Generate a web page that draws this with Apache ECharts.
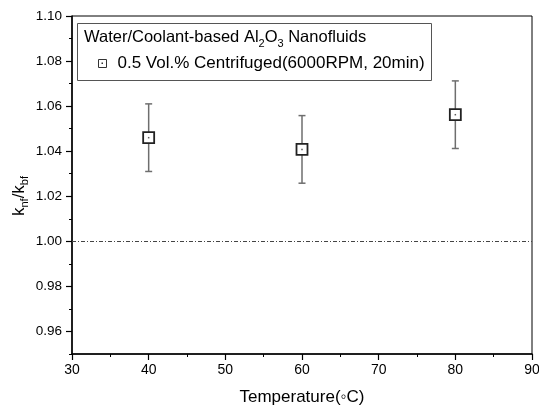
<!DOCTYPE html>
<html><head><meta charset="utf-8">
<script src="https://cdn.jsdelivr.net/npm/echarts@6/dist/echarts.min.js"></script>
<style>html,body{margin:0;padding:0;background:#fff}#c{width:539px;height:406px}</style>
</head><body><div id="c"></div>
<script>
const temperatures = [40, 60, 80];
const ratioValues = [1.046, 1.0408, 1.0562];
const ratioErrors = [0.015, 0.015, 0.015];
const xTicks = [30, 40, 50, 60, 70, 80, 90];
const yMajorTicks = [0.96, 0.98, 1.00, 1.02, 1.04, 1.06, 1.08, 1.10];
const yMinorTicks = [0.95, 0.97, 0.99, 1.01, 1.03, 1.05, 1.07, 1.09];
const referenceLevel = 1.00;
const seriesName = '0.5 Vol.% Centrifuged(6000RPM, 20min)';

const FONT = 'Liberation Sans, Arial, sans-serif';
const chart = echarts.init(document.getElementById('c'), null, {renderer: 'canvas'});
const pts = temperatures.map((t, i) => [t, ratioValues[i]]);
const bars = temperatures.map((t, i) => [t, ratioValues[i] - ratioErrors[i], ratioValues[i] + ratioErrors[i]]);

function subRich(big, small, drop) {
  return {
    n: {fontSize: big, fontFamily: FONT, fontWeight: 'normal', color: '#000', lineHeight: big + 2, verticalAlign: 'top'},
    s: {fontSize: small, fontFamily: FONT, fontWeight: 'normal', color: '#000', lineHeight: small, padding: [drop, 0, 0, 0], verticalAlign: 'top'}
  };
}

chart.setOption({
  animation: false,
  backgroundColor: '#fff',
  grid: {left: 72, right: 7, top: 16, bottom: 52, outerBoundsMode: 'none', containLabel: false,
    show: true, borderColor: '#000', borderWidth: 1},
  title: {
    text: '{n|Water/Coolant-based Al}{s|2}{n|O}{s|3}{n| Nanofluids}',
    left: 84, top: 29, padding: 0,
    textStyle: {fontWeight: 'normal', rich: subRich(16.5, 11, 9)}
  },
  legend: {
    data: [seriesName], left: 98, top: 55, padding: 0,
    itemWidth: 8, itemHeight: 8, itemGap: 10,
    itemStyle: {borderWidth: 1, borderColor: '#333'},
    textStyle: {fontSize: 17, fontFamily: FONT, color: '#000', padding: [0, 0, 0, 6]}
  },
  xAxis: {
    type: 'value', min: 30, max: 90, interval: 10,
    name: 'Temperature(\u25E6C)', nameLocation: 'middle', nameGap: 35,
    nameTextStyle: {fontSize: 17, fontFamily: FONT, color: '#000'},
    axisLine: {show: true, lineStyle: {color: '#000', width: 1.5}},
    axisTick: {show: true, inside: false, length: 6, lineStyle: {color: '#000', width: 1.2}},
    minorTick: {show: true, splitNumber: 2, length: 3, lineStyle: {color: '#000', width: 1}},
    axisLabel: {fontSize: 14, fontFamily: FONT, color: '#000', margin: 9, customValues: xTicks},
    splitLine: {show: false}
  },
  yAxis: [{
    type: 'value', min: 0.95, max: 1.10,
    axisLine: {show: true, lineStyle: {color: '#000', width: 1.5}},
    axisTick: {show: true, inside: false, length: 6, customValues: yMajorTicks, lineStyle: {color: '#000', width: 1.2}},
    axisLabel: {fontSize: 13.5, fontFamily: FONT, color: '#000', margin: 10, customValues: yMajorTicks,
      formatter: v => v.toFixed(2)},
    splitLine: {show: false}
  }, {
    type: 'value', min: 0.95, max: 1.10, position: 'left',
    axisLine: {show: false},
    axisTick: {show: true, inside: false, length: 3, customValues: yMinorTicks, lineStyle: {color: '#000', width: 1}},
    axisLabel: {show: false},
    splitLine: {show: false}
  }],
  graphic: [{
    type: 'rect', shape: {x: 77.5, y: 23.5, width: 354, height: 57},
    style: {fill: 'none', stroke: '#555', lineWidth: 1}, z: 5
  }, {
    type: 'rect', shape: {x: 101.5, y: 62.5, width: 1.5, height: 1.5},
    style: {fill: '#333'}, z: 6
  }, {
    type: 'text', x: 20, y: 196, rotation: Math.PI / 2, z: 5,
    style: {text: '{n|k}{s|nf}{n|/k}{s|bf}', rich: subRich(17, 11, 9), align: 'center', verticalAlign: 'middle'}
  }],
  series: [{
    type: 'custom', name: 'err', data: bars, z: 2, silent: true,
    renderItem: (params, api) => {
      const lo = api.coord([api.value(0), api.value(1)]);
      const hi = api.coord([api.value(0), api.value(2)]);
      const w = 3.5;
      const st = {stroke: '#6e6e6e', lineWidth: 1.5};
      return {type: 'group', children: [
        {type: 'line', shape: {x1: lo[0], y1: lo[1], x2: hi[0], y2: hi[1]}, style: st},
        {type: 'line', shape: {x1: lo[0]-w, y1: lo[1], x2: lo[0]+w, y2: lo[1]}, style: st},
        {type: 'line', shape: {x1: hi[0]-w, y1: hi[1], x2: hi[0]+w, y2: hi[1]}, style: st}
      ]};
    }
  }, {
    type: 'scatter', name: seriesName, data: pts, z: 3,
    symbol: 'rect', symbolSize: 11,
    itemStyle: {color: '#fff', borderColor: '#222', borderWidth: 1.8, opacity: 1},
    markLine: {
      silent: true, symbol: 'none', label: {show: false},
      lineStyle: {color: '#444', width: 1, type: [4, 2, 1, 2]},
      data: [{yAxis: referenceLevel}]
    }
  }, {
    type: 'scatter', name: 'dot', data: pts, z: 4, silent: true,
    symbol: 'rect', symbolSize: 1.5, itemStyle: {color: '#333'}
  }]
});
</script>
</body></html>
